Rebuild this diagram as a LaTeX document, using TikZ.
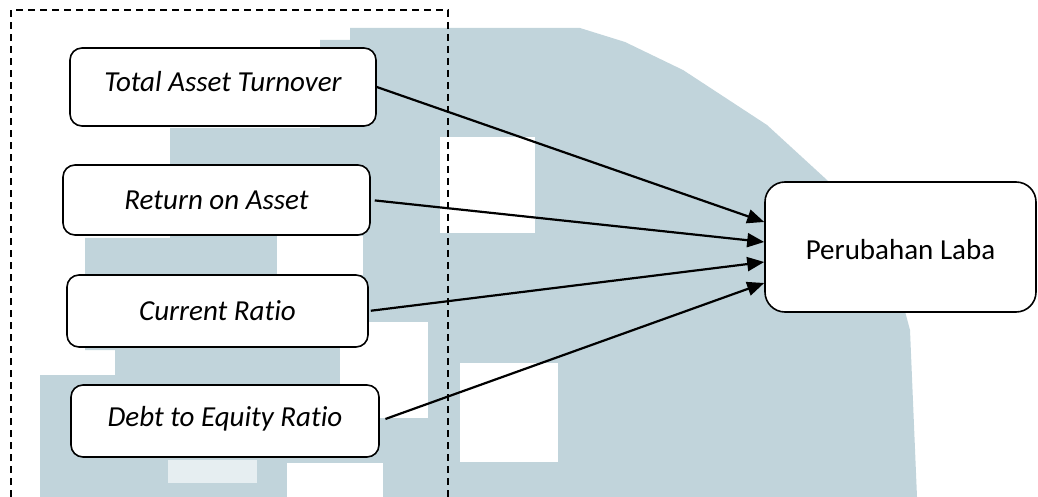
\documentclass[tikz,border=0pt]{standalone}
\usepackage{fontspec}
\setmainfont{Carlito}[Ligatures=NoCommon]
\usetikzlibrary{arrows.meta}
\definecolor{markgray}{RGB}{193,212,219}
\begin{document}
\begin{tikzpicture}
            [x=0.5pt, y=-0.5pt, node distance=55.5pt, >={Triangle[length=8.5pt,width=7pt]},
             var node/.style={rectangle,draw,fill=white,rounded corners=6pt,line width=0.8pt,inner sep=0pt,font=\fontsize{14.5}{17}\selectfont\itshape},
             dep node/.style={rectangle,draw,fill=white,rounded corners=10pt,line width=0.8pt,inner sep=0pt,font=\fontsize{14.5}{17}\selectfont},
             link/.style={->,line width=1.1pt}]
            \useasboundingbox (0,0) rectangle (1038,497);

            \fill[markgray] (40,497) -- (40,375) -- (115,375) -- (115,350) -- (85,350) -- (85,238) -- (170,238)
                -- (170,128) -- (320,128) -- (320,40) -- (350,40) -- (350,28) -- (580,28) -- (625,42) -- (683,70)
                -- (767,125) -- (827,180) -- (870,228) -- (898,285) -- (910,330) -- (917,497) -- cycle;
            \fill[white] (440,137) rectangle (535,233);
            \fill[white] (340,322) rectangle (428,418);
            \fill[white] (460,363) rectangle (558,462);
            \fill[white] (287,463) rectangle (383,497);
            \fill[white] (277,236) rectangle (363,275);
            \fill[white!60!markgray] (168,460) rectangle (257,483);

            \draw[dash pattern=on 3.5pt off 2.5pt, line width=0.65pt] (11,497) -- (11,10) -- (448,10) -- (448,497);

            \node[var node, minimum width=153pt, minimum height=39pt, text height=10pt, text depth=5.5pt] (tat) at (223,87) {Total Asset Turnover};
            \node[var node, minimum width=153.5pt, minimum height=35pt, below of=tat, xshift=-3.25pt, yshift=-1pt] (roa) {Return on Asset};
            \node[var node, minimum width=150.5pt, minimum height=36pt, below of=roa, xshift=0.5pt] (cr) {Current Ratio};
            \node[var node, minimum width=154pt, minimum height=36pt, text height=10pt, text depth=4.5pt, below of=cr, xshift=3.75pt, yshift=0.5pt] (der) {Debt to Equity Ratio};
            \node[dep node, minimum width=135.5pt, minimum height=65pt, text height=15pt, text depth=3pt] (pl) at (900.5,247) {Perubahan Laba};

            \draw[link] (tat.east) -- ([yshift=12.5pt]pl.west);
            \draw[link, shorten <=2pt] (roa.east) -- ([yshift=2.5pt]pl.west);
            \draw[link, shorten <=1pt] (cr.east) -- ([yshift=-7.5pt]pl.west);
            \draw[link, shorten <=3pt] (der.east) -- ([yshift=-18pt]pl.west);
         \end{tikzpicture}
\end{document}
